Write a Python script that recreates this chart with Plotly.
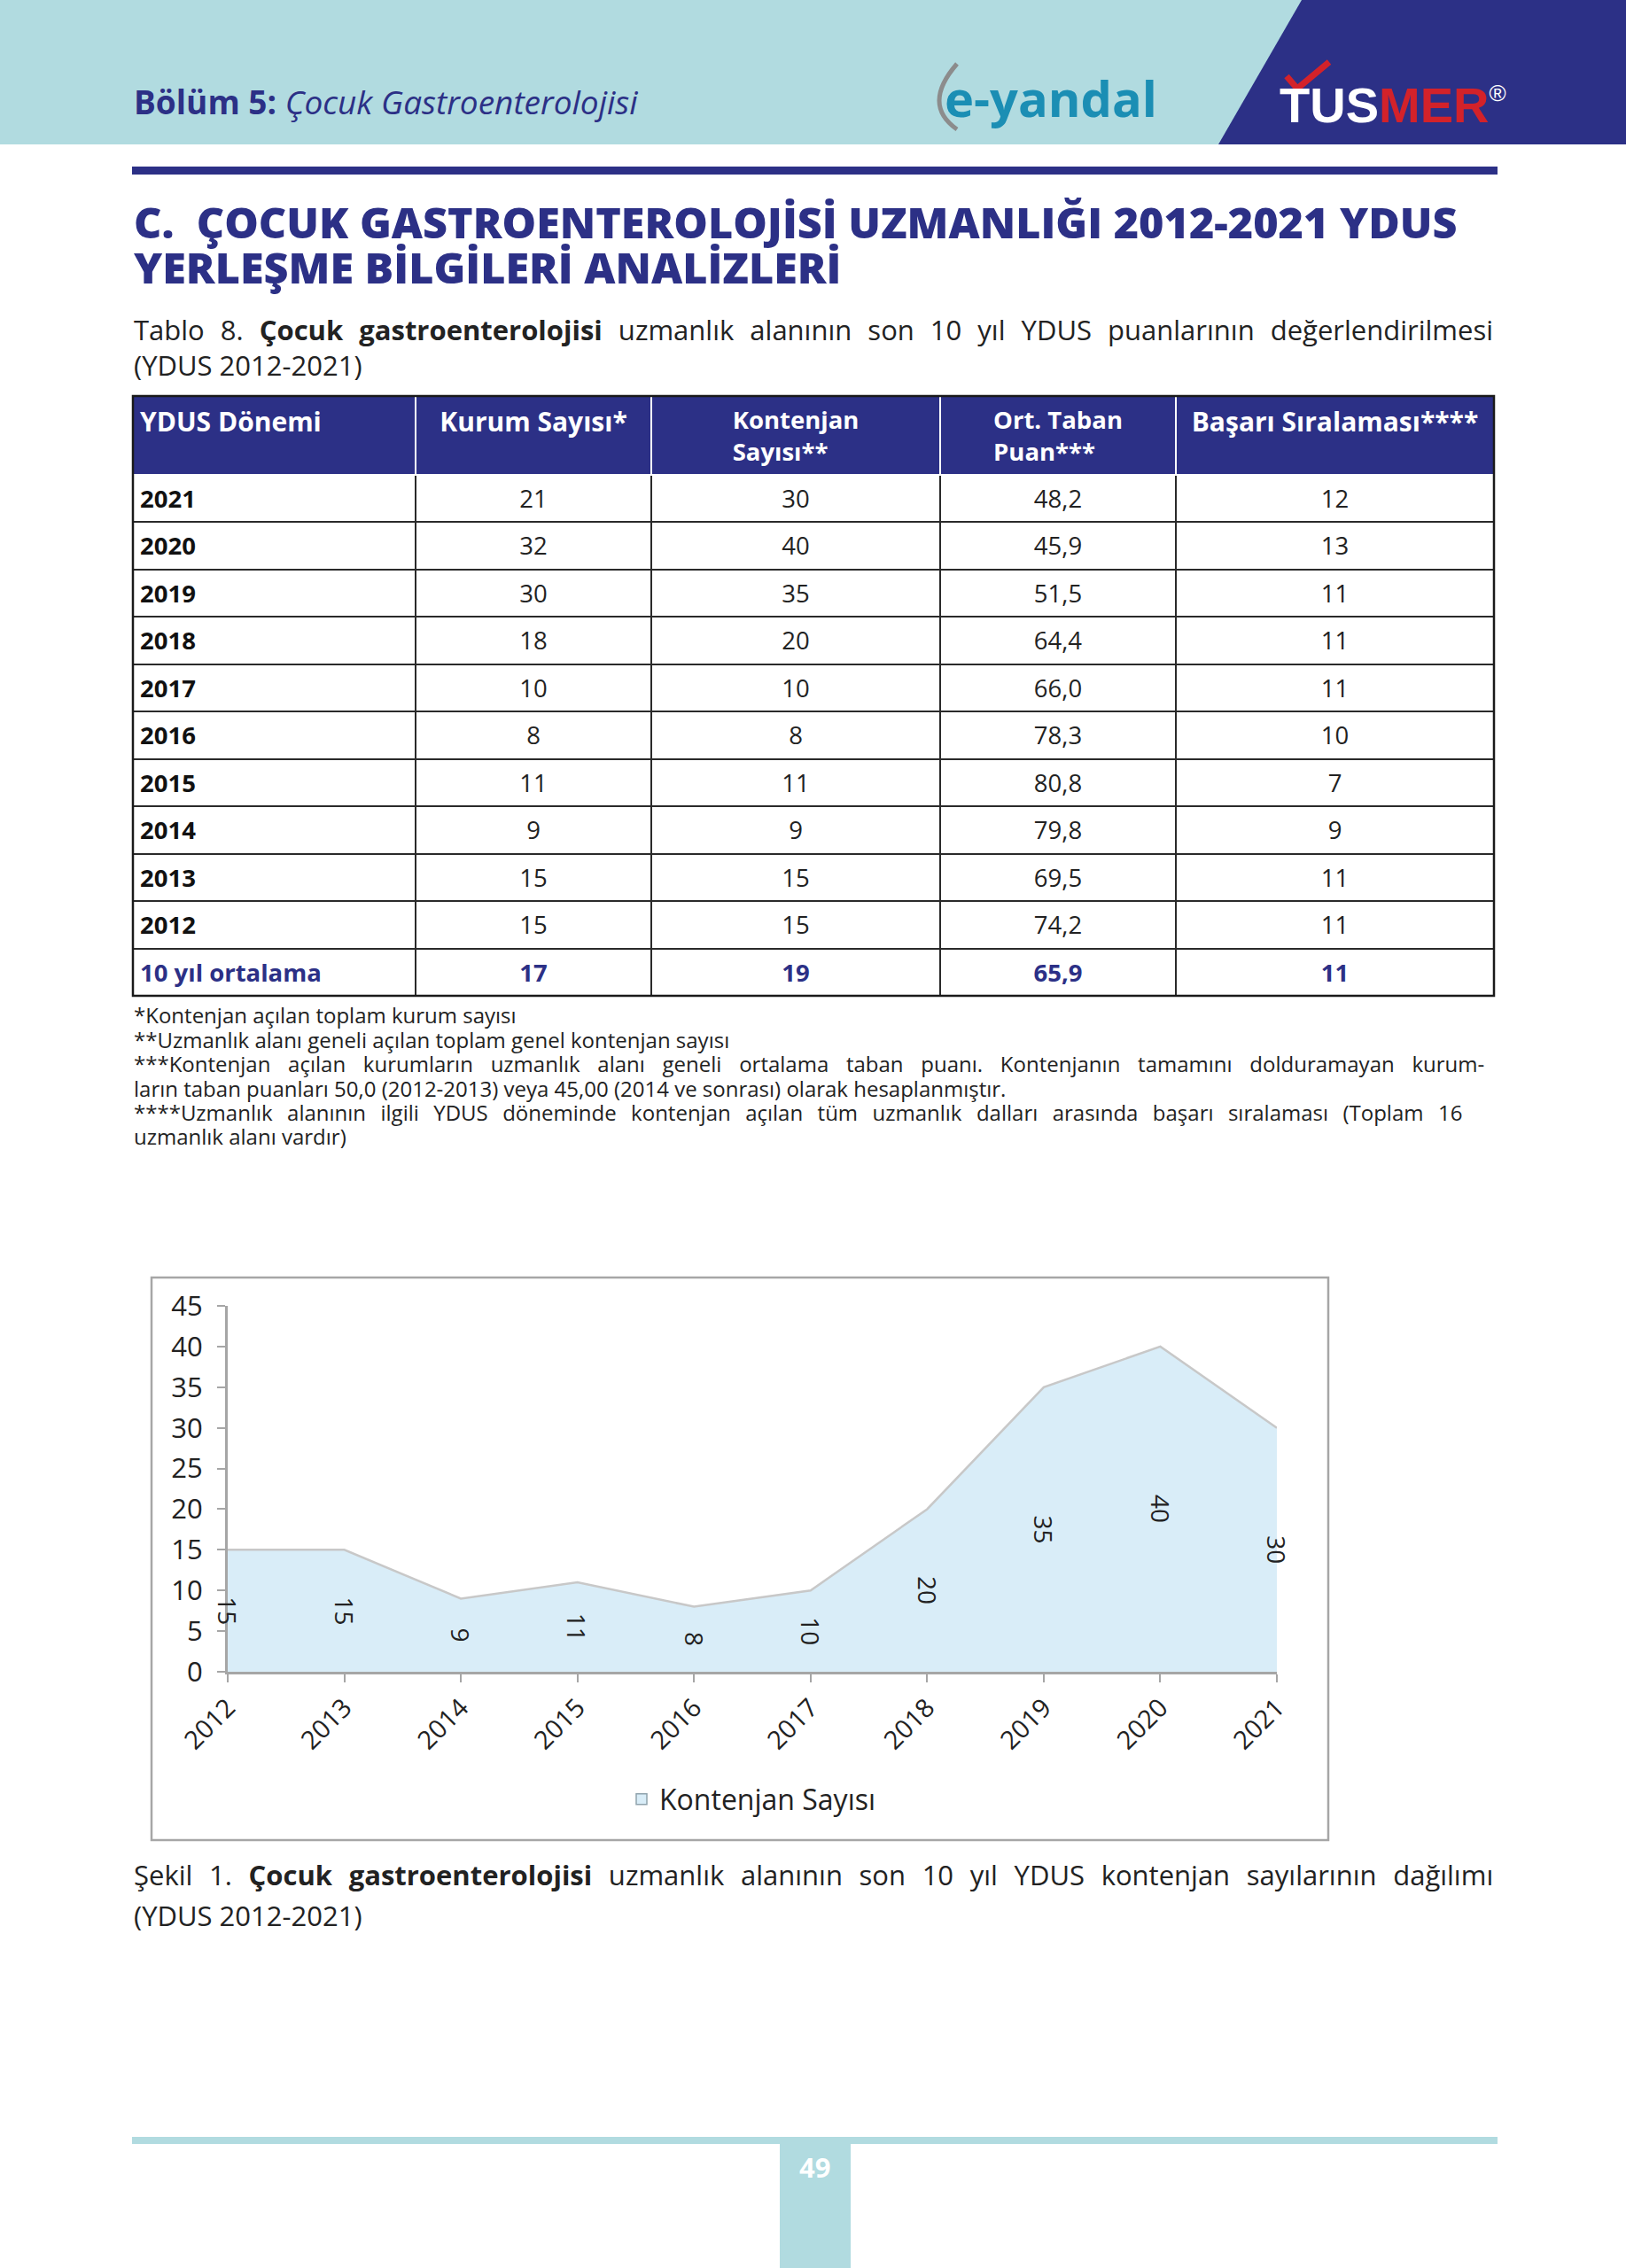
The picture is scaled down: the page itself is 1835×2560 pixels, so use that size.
import plotly.graph_objects as go

W, H = 1835, 2560

# ---------------- data ----------------
table_years = ["2021", "2020", "2019", "2018", "2017", "2016", "2015", "2014", "2013", "2012"]
kurum_sayisi = [21, 32, 30, 18, 10, 8, 11, 9, 15, 15]
kontenjan_sayisi = [30, 40, 35, 20, 10, 8, 11, 9, 15, 15]
ort_taban_puan = ["48,2", "45,9", "51,5", "64,4", "66,0", "78,3", "80,8", "79,8", "69,5", "74,2"]
basari_siralamasi = [12, 13, 11, 11, 11, 10, 7, 9, 11, 11]
avg_label = "10 yıl ortalama"
avg_values = ["17", "19", "65,9", "11"]
table_header = ["YDUS Dönemi", "Kurum Sayısı*", "Kontenjan<br>Sayısı**", "Ort. Taban<br>Puan***", "Başarı Sıralaması****"]

chart_years = [2012, 2013, 2014, 2015, 2016, 2017, 2018, 2019, 2020, 2021]
chart_values = [15, 15, 9, 11, 8, 10, 20, 35, 40, 30]
series_name = "Kontenjan Sayısı"
y_ticks = [0, 5, 10, 15, 20, 25, 30, 35, 40, 45]

footnotes = [
    "*Kontenjan açılan toplam kurum sayısı",
    "**Uzmanlık alanı geneli açılan toplam genel kontenjan sayısı",
    "***Kontenjan açılan kurumların uzmanlık alanı geneli ortalama taban puanı. Kontenjanın tamamını dolduramayan kurum-",
    "ların taban puanları 50,0 (2012-2013) veya 45,00 (2014 ve sonrası) olarak hesaplanmıştır.",
    "****Uzmanlık alanının ilgili YDUS döneminde kontenjan açılan tüm uzmanlık dalları arasında başarı sıralaması (Toplam 16",
    "uzmanlık alanı vardır)",
]
footnote_wordspacing = [0, 0, 13.5, 0, 10.2, 0]

# ---------------- styles ----------------
NAVY = "#2C3086"
TEAL = "#B1DBE0"
RED = "#D3222A"
FONT = "Open Sans"
TXT = "#222222"
GRAY = "#A6A6A6"


def px(x):
    return x / W


def py(y):
    return 1 - y / H


fig = go.Figure()

# ---------------- table ----------------
col0 = ["<b>%s</b>" % y for y in table_years] + ["<b>%s</b>" % avg_label]
col1 = ["<span>%s</span>" % v for v in kurum_sayisi] + ["<b>%s</b>" % avg_values[0]]
col2 = ["<span>%s</span>" % v for v in kontenjan_sayisi] + ["<b>%s</b>" % avg_values[1]]
col3 = ["<span>%s</span>" % v for v in ort_taban_puan] + ["<b>%s</b>" % avg_values[2]]
col4 = ["<span>%s</span>" % v for v in basari_siralamasi] + ["<b>%s</b>" % avg_values[3]]
n = len(table_years)
colors = [["#111111"] * n + [NAVY]] + [[TXT] * n + [NAVY] for _ in range(4)]
header_sizes = [30 if "<br>" not in h else 27.5 for h in table_header]

fig.add_trace(go.Table(
    domain=dict(x=[px(150), px(1686)], y=[py(1132), py(447)]),
    columnwidth=[319, 266, 326, 266, 359],
    header=dict(
        values=["<b>%s</b>" % h for h in table_header],
        fill_color=NAVY,
        line=dict(color="white", width=1.5),
        font=dict(family=FONT, size=header_sizes, color="white"),
        align=["left", "center", "center", "center", "center"],
        height=88,
    ),
    cells=dict(
        values=[col0, col1, col2, col3, col4],
        fill_color="white",
        line=dict(color="#2a2a2a", width=2),
        font=dict(family=FONT, size=27.5, color=colors),
        align=["left", "center", "center", "center", "center"],
        height=53.5,
    ),
))

# ---------------- area chart ----------------
fig.add_trace(go.Scatter(
    x=chart_years, y=chart_values, name=series_name,
    mode="lines", fill="tozeroy",
    fillcolor="#D9EDF8",
    line=dict(color="#C8C8C8", width=2.5),
    showlegend=False,
))
# legend entry with square swatch (no drawn data)
fig.add_trace(go.Bar(
    x=[None], y=[None], name=series_name,
    marker=dict(color="#D9EDF8", line=dict(color="#8FA3AD", width=1.5)),
    showlegend=True,
))

annotations = []
for x, v in zip(chart_years, chart_values):
    annotations.append(dict(
        x=x, y=v / 2, xref="x", yref="y", text=str(v), textangle=90,
        showarrow=False, font=dict(family=FONT, size=28, color=TXT),
    ))


# ---------------- page texts ----------------
def note(x, y, text, size, color=TXT, xanchor="left", family=FONT, weight="normal", ws=0):
    if ws:
        text = "<span style='word-spacing:%.1fpx'>%s</span>" % (ws, text)
    annotations.append(dict(
        x=px(x), y=py(y), xref="paper", yref="paper", text=text,
        showarrow=False, xanchor=xanchor, yanchor="middle",
        font=dict(family=family, size=size, color=color, weight=weight),
    ))


note(149, 114, "<b>Bölüm 5:</b> <i>Çocuk Gastroenterolojisi</i>", 37, NAVY)
note(1186, 110, "<b>e-yandal</b>", 56, "#1B8EB4", xanchor="center")
note(1572, 118, "<b>TUS<span style='color:%s'>MER</span></b><sup><span style='font-size:26px'>®</span></sup>" % RED,
     56, "white", xanchor="center", family="Liberation Sans")

note(149, 250, "C.\u00a0 ÇOCUK GASTROENTEROLOJİSİ UZMANLIĞI 2012-2021 YDUS", 48.5, NAVY, weight=800)
note(149, 301, "YERLEŞME BİLGİLERİ ANALİZLERİ", 48.5, NAVY, weight=800)

note(149, 372, "Tablo 8. <b>Çocuk gastroenterolojisi</b> uzmanlık alanının son 10 yıl YDUS puanlarının değerlendirilmesi",
     31, ws=10)
note(149, 412, "(YDUS 2012-2021)", 31)

for t, yy, w in zip(footnotes, [1145, 1173, 1200, 1228, 1255, 1282], footnote_wordspacing):
    note(149, yy, t, 24, ws=w)

note(149, 2116, "Şekil 1. <b>Çocuk gastroenterolojisi</b> uzmanlık alanının son 10 yıl YDUS kontenjan sayılarının dağılımı",
     31, ws=10.6)
note(149, 2162, "(YDUS 2012-2021)", 31)

note(920, 2446, "<b>49</b>", 31, "white", xanchor="center")

# ---------------- decorative shapes ----------------
shapes = [
    dict(type="rect", xref="paper", yref="paper", x0=0, x1=1, y0=py(163), y1=1,
         fillcolor=TEAL, line=dict(width=0), layer="below"),
    dict(type="path", xref="paper", yref="paper",
         path="M %f,%f L %f,%f L %f,%f L %f,%f Z" % (px(1469), py(0), px(1835), py(0),
                                                    px(1835), py(163), px(1375), py(163)),
         fillcolor=NAVY, line=dict(width=0), layer="below"),
    dict(type="path", xref="paper", yref="paper",
         path="M %f,%f Q %f,%f %f,%f" % (px(1080), py(72), px(1040), py(118), px(1080), py(146)),
         line=dict(color="#8C8C8C", width=5)),
    dict(type="path", xref="paper", yref="paper",
         path="M %f,%f L %f,%f L %f,%f" % (px(1452), py(86), px(1464), py(100), px(1500), py(70)),
         line=dict(color=RED, width=7)),
    dict(type="rect", xref="paper", yref="paper", x0=px(149), x1=px(1690), y0=py(197), y1=py(188),
         fillcolor=NAVY, line=dict(width=0)),
    dict(type="rect", xref="paper", yref="paper", x0=px(171), x1=px(1499), y0=py(2077), y1=py(1442),
         fillcolor="rgba(0,0,0,0)", line=dict(color=GRAY, width=2.5)),
    dict(type="rect", xref="paper", yref="paper", x0=px(149), x1=px(1690), y0=py(2420), y1=py(2412),
         fillcolor=TEAL, line=dict(width=0)),
    dict(type="rect", xref="paper", yref="paper", x0=px(880), x1=px(960), y0=0, y1=py(2420),
         fillcolor=TEAL, line=dict(width=0), layer="below"),
    dict(type="rect", xref="paper", yref="paper", x0=px(150), x1=px(1686), y0=py(1124), y1=py(447),
         fillcolor="rgba(0,0,0,0)", line=dict(color="#1a1a1a", width=2.5)),
]

fig.update_layout(
    width=W, height=H,
    margin=dict(l=0, r=0, t=0, b=0, pad=0, autoexpand=False),
    paper_bgcolor="white", plot_bgcolor="rgba(0,0,0,0)",
    font=dict(family=FONT, color=TXT),
    xaxis=dict(
        domain=[px(257), px(1441)], range=[chart_years[0], chart_years[-1]],
        tickvals=chart_years, ticktext=[str(y) for y in chart_years],
        tickangle=-45, ticks="outside", ticklen=9, tickwidth=2, tickcolor=GRAY,
        showline=True, linecolor=GRAY, linewidth=3, showgrid=False, zeroline=False,
        tickfont=dict(family=FONT, size=29, color=TXT), automargin=False,
    ),
    yaxis=dict(
        domain=[py(1887), py(1474)], range=[0, 45], tickvals=y_ticks,
        ticks="outside", ticklen=9, tickwidth=2, tickcolor=GRAY,
        showline=True, linecolor=GRAY, linewidth=3, showgrid=False, zeroline=False,
        tickfont=dict(family=FONT, size=31, color=TXT), automargin=False,
        ticklabelstandoff=10,
    ),
    legend=dict(orientation="h", x=px(849), xanchor="center", y=py(2031), yanchor="middle",
                font=dict(family=FONT, size=32, color=TXT), bgcolor="rgba(0,0,0,0)"),
    annotations=annotations,
    shapes=shapes,
)

fig.write_html("out.html", config={"displayModeBar": False},
               post_script="document.body.style.margin='0';document.body.style.padding='0';")
